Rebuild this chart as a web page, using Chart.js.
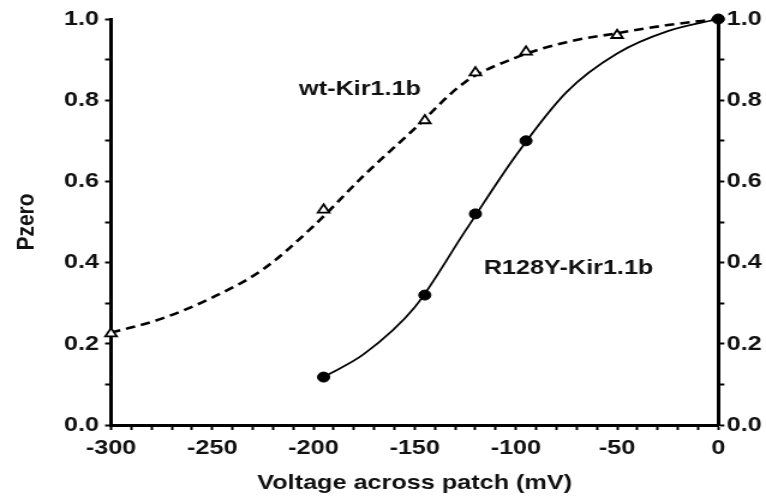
<!DOCTYPE html>
<html>
<head>
<meta charset="utf-8">
<script src="https://cdn.jsdelivr.net/npm/chart.js@4.4.1/dist/chart.umd.min.js"></script>
<style>
  html, body { margin: 0; padding: 0; background: #fff; overflow: hidden; }
  /* the source figure is a bit wider than tall in its lettering, so stretch horizontally */
  #wrap { width: 638px; height: 502px; transform: scaleX(1.2006); transform-origin: 0 0; }
</style>
</head>
<body>
<div id="wrap"><canvas id="chart" width="638" height="502"></canvas></div>
<script>
// measured points
const wtVolt = [-300, -195, -145, -120, -95, -50];
const wtPzero = [0.225, 0.53, 0.75, 0.868, 0.919, 0.96];
const r128Volt = [-195, -145, -120, -95, 0];
const r128Pzero = [0.118, 0.32, 0.52, 0.70, 1.0];

// fitted curves
const wtFitVolt = [-300, -275, -250, -225, -200, -175, -150, -125, -100, -75, -50, -25, 0];
const wtFitPzero = [0.227, 0.262, 0.314, 0.383, 0.49, 0.615, 0.73, 0.845, 0.905, 0.943, 0.965, 0.985, 1.0];
const r128FitVolt = [-195, -175, -150, -125, -100, -75, -50, -25, 0];
const r128FitPzero = [0.118, 0.175, 0.29, 0.478, 0.664, 0.82, 0.915, 0.97, 1.0];

// curve labels (text, and where they sit in data units)
const curveLabels = ['wt-Kir1.1b', 'R128Y-Kir1.1b'];
const curveLabelVolt = [-177, -74];
const curveLabelPzero = [0.827, 0.387];

const FONT = '"Liberation Sans", Arial, Helvetica, sans-serif';
const tickFont = { family: FONT, size: 21, weight: 'bold' };
const titleFont = { family: FONT, size: 21, weight: 'bold' };

const pts = (xs, ys) => xs.map((x, i) => ({ x: x, y: ys[i] }));

const labelPlugin = {
    id: 'curveLabels',
    afterDatasetsDraw(chart) {
        const { ctx, scales } = chart;
        ctx.save();
        ctx.font = 'bold 21px ' + FONT;
        ctx.fillStyle = '#111';
        ctx.textAlign = 'center';
        ctx.textBaseline = 'middle';
        curveLabels.forEach((txt, i) => {
            ctx.fillText(txt, scales.x.getPixelForValue(curveLabelVolt[i]), scales.y.getPixelForValue(curveLabelPzero[i]));
        });
        ctx.restore();
    }
};

const yTicks = (pad) => ({
    stepSize: 0.1,
    autoSkip: false,
    color: '#111',
    font: tickFont,
    padding: pad,
    callback: v => Math.round(v * 10) % 2 === 0 ? v.toFixed(1) : ''
});

new Chart(document.getElementById('chart'), {
    type: 'scatter',
    data: {
        datasets: [
            {
                data: pts(r128Volt, r128Pzero),
                pointStyle: 'circle',
                pointRadius: 5,
                backgroundColor: '#000',
                borderColor: '#000',
                borderWidth: 1,
                clip: false
            },
            {
                data: pts(wtVolt, wtPzero),
                pointStyle: 'triangle',
                pointRadius: 5.5,
                backgroundColor: '#fff',
                borderColor: '#000',
                borderWidth: 1.8,
                clip: false
            },
            {
                data: pts(r128FitVolt, r128FitPzero),
                showLine: true,
                pointRadius: 0,
                borderColor: '#000',
                borderWidth: 1.8,
                cubicInterpolationMode: 'monotone',
                clip: false
            },
            {
                data: pts(wtFitVolt, wtFitPzero),
                showLine: true,
                pointRadius: 0,
                borderColor: '#000',
                borderWidth: 2.6,
                borderDash: [8, 5],
                cubicInterpolationMode: 'monotone',
                clip: false
            }
        ]
    },
    options: {
        responsive: false,
        animation: false,
        devicePixelRatio: 1,
        layout: { padding: { top: 19, left: 0, right: 0, bottom: 0 } },
        plugins: { legend: { display: false }, tooltip: { enabled: false } },
        scales: {
            x: {
                type: 'linear',
                min: -300,
                max: 0,
                afterFit: s => { s.height = 77; },
                border: { color: '#000', width: 3 },
                grid: { drawOnChartArea: false, tickLength: 5, tickColor: '#000', tickWidth: 2 },
                ticks: {
                    stepSize: 10,
                    autoSkip: false,
                    maxRotation: 0,
                    color: '#111',
                    font: tickFont,
                    padding: 6,
                    callback: v => Math.round(v) % 50 === 0 ? String(Math.round(v)) : ''
                },
                title: { display: true, text: 'Voltage across patch (mV)', color: '#111', font: titleFont, padding: { top: 0, bottom: 6 } }
            },
            y: {
                position: 'left',
                min: 0,
                max: 1,
                afterFit: s => { s.width = 92.5; },
                border: { color: '#000', width: 3 },
                grid: { drawOnChartArea: false, tickLength: 5, tickColor: '#000', tickWidth: 2 },
                ticks: yTicks(5),
                title: { display: true, text: 'Pzero', color: '#111', font: titleFont, padding: { top: 10, bottom: 0 } }
            },
            y2: {
                position: 'right',
                min: 0,
                max: 1,
                afterFit: s => { s.width = 39.7; },
                border: { color: '#000', width: 3 },
                grid: { drawOnChartArea: false, tickLength: 5, tickColor: '#000', tickWidth: 2 },
                ticks: yTicks(2)
            }
        }
    },
    plugins: [labelPlugin]
});
</script>
</body>
</html>
